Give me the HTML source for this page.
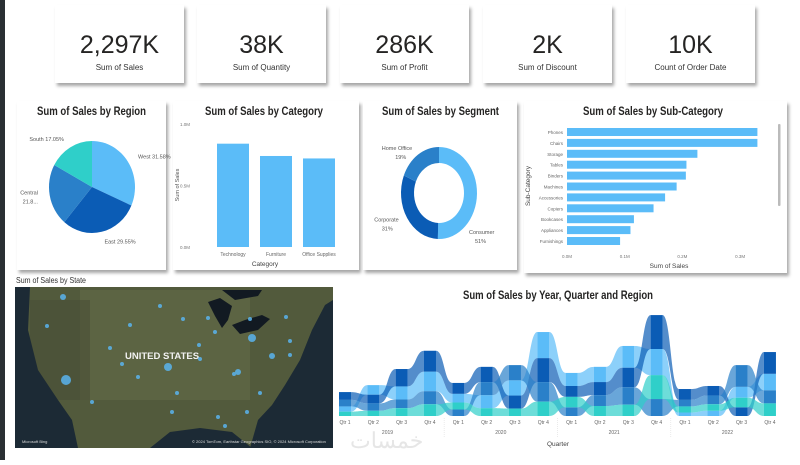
<!DOCTYPE html>
<html><head><meta charset="utf-8">
<style>
html,body{margin:0;padding:0;background:#fff;}
body{width:800px;height:460px;overflow:hidden;font-family:"Liberation Sans",sans-serif;}
svg text{font-family:"Liberation Sans",sans-serif;}
</style></head>
<body>
<svg id="root" width="800" height="460" viewBox="0 0 800 460" xmlns="http://www.w3.org/2000/svg">
<defs>
<filter id="sh" x="-10%" y="-10%" width="125%" height="130%">
<feDropShadow dx="2" dy="3" stdDeviation="1.6" flood-color="#000" flood-opacity="0.35"/>
</filter>
<clipPath id="mapclip"><rect x="15" y="287" width="318" height="161"/></clipPath>
</defs>
<rect x="0" y="0" width="800" height="460" fill="#ffffff"/>
<rect x="0" y="0" width="5" height="460" fill="#2a2f33"/>

<g>
<rect x="55" y="5" width="129" height="78" fill="#fff" filter="url(#sh)"/>
<text x="119.5" y="53" font-size="25" text-anchor="middle" fill="#252423">2,297K</text>
<text x="119.5" y="70" font-size="8" text-anchor="middle" fill="#333">Sum of Sales</text></g>
<g>
<rect x="197" y="5" width="129" height="78" fill="#fff" filter="url(#sh)"/>
<text x="261.5" y="53" font-size="25" text-anchor="middle" fill="#252423">38K</text>
<text x="261.5" y="70" font-size="8" text-anchor="middle" fill="#333">Sum of Quantity</text></g>
<g>
<rect x="340" y="5" width="129" height="78" fill="#fff" filter="url(#sh)"/>
<text x="404.5" y="53" font-size="25" text-anchor="middle" fill="#252423">286K</text>
<text x="404.5" y="70" font-size="8" text-anchor="middle" fill="#333">Sum of Profit</text></g>
<g>
<rect x="483" y="5" width="129" height="78" fill="#fff" filter="url(#sh)"/>
<text x="547.5" y="53" font-size="25" text-anchor="middle" fill="#252423">2K</text>
<text x="547.5" y="70" font-size="8" text-anchor="middle" fill="#333">Sum of Discount</text></g>
<g>
<rect x="626" y="5" width="129" height="78" fill="#fff" filter="url(#sh)"/>
<text x="690.5" y="53" font-size="25" text-anchor="middle" fill="#252423">10K</text>
<text x="690.5" y="70" font-size="8" text-anchor="middle" fill="#333">Count of Order Date</text></g>

<rect x="17" y="101" width="149" height="169" fill="#fff" filter="url(#sh)"/>
<rect x="173" y="101" width="186" height="169" fill="#fff" filter="url(#sh)"/>
<rect x="363" y="101" width="154" height="169" fill="#fff" filter="url(#sh)"/>
<rect x="524" y="101" width="263" height="172" fill="#fff" filter="url(#sh)"/>

<text x="37" y="115" font-size="12" font-weight="bold" fill="#252423" textLength="109" lengthAdjust="spacingAndGlyphs">Sum of Sales by Region</text>
<text x="205" y="115" font-size="12" font-weight="bold" fill="#252423" textLength="118" lengthAdjust="spacingAndGlyphs">Sum of Sales by Category</text>
<text x="382" y="115" font-size="12" font-weight="bold" fill="#252423" textLength="117" lengthAdjust="spacingAndGlyphs">Sum of Sales by Segment</text>
<text x="583" y="115" font-size="12" font-weight="bold" fill="#252423" textLength="140" lengthAdjust="spacingAndGlyphs">Sum of Sales by Sub-Category</text>

<g id="pie"></g>
<g id="cat"></g>
<g id="donut"></g>
<g id="sub"></g>

<text x="16" y="283" font-size="8" fill="#333" textLength="70" lengthAdjust="spacingAndGlyphs">Sum of Sales by State</text>
<g clip-path="url(#mapclip)">
<rect x="15" y="287" width="318" height="161" fill="#525a3c"/>
<rect x="80" y="290" width="170" height="110" fill="#646a48" opacity="0.6"/>
<rect x="30" y="300" width="60" height="100" fill="#4a4f37" opacity="0.6"/>
<path d="M15,287 L30,287 L28,330 L38,370 L58,400 L72,420 L78,448 L15,448Z" fill="#1c2a35"/>
<path d="M333,300 L333,448 L250,448 L258,420 L272,405 L285,385 L300,360 L312,330 L325,305Z" fill="#1c2a35"/>
<path d="M150,448 L170,432 L200,428 L232,432 L252,448Z" fill="#1c2a35"/>
<path d="M208,302 L220,298 L232,306 L228,320 L222,328 L215,316 Z" fill="#121a22"/>
<path d="M232,325 L245,320 L262,315 L270,319 L258,330 L240,334Z" fill="#121a22"/>
<path d="M222,290 L262,290 L258,296 L235,300Z" fill="#121a22"/>
<text x="125" y="359" font-size="9.5" font-weight="bold" fill="#f2f2f2">UNITED STATES</text>
<g fill="#5ab4ee" opacity="0.85" id="mapdots"></g>
<text x="22" y="443" font-size="4" fill="#ddd">Microsoft Bing</text>
<text x="192" y="443" font-size="4" fill="#ddd">© 2024 TomTom, Earthstar Geographics SIO, © 2024 Microsoft Corporation</text>
</g>

<g id="ribbon"></g>
<text x="463" y="299" font-size="12" font-weight="bold" fill="#252423" textLength="190" lengthAdjust="spacingAndGlyphs">Sum of Sales by Year, Quarter and Region</text>
<text x="350" y="448" font-size="22" fill="#e6e6e6" font-family="Liberation Sans, Noto Sans CJK SC, sans-serif">خمسات</text>
</svg>
<script>
var NS="http://www.w3.org/2000/svg";
function el(t,a,p){var e=document.createElementNS(NS,t);for(var k in a)e.setAttribute(k,a[k]);if(p)p.appendChild(e);return e;}
function txt(s,a,p){var e=el("text",a,p);e.textContent=s;return e;}

var regionNames=["West","East","Central","South"];
var regionShares=[31.58,29.55,21.8,17.05];
var regionLabels=["West 31.58%","East 29.55%","Central 21.8...","South 17.05%"];
var regionColors=["#5bbcf8","#0b5cb5","#2a80c9","#2fcfc9"];

var categories=["Technology","Furniture","Office Supplies"];
var categorySales=[0.84,0.74,0.72];
var categoryTicks=["0.0M","0.5M","1.0M"];
var categoryTickVals=[0,0.5,1.0];

var segments=["Consumer","Corporate","Home Office"];
var segmentShares=[51,31,19];
var segmentColors=["#5bbcf8","#0b5cb5","#2a80c9"];

var subCats=["Phones","Chairs","Storage","Tables","Binders","Machines","Accessories","Copiers","Bookcases","Appliances","Furnishings"];
var subSales=[0.33,0.33,0.226,0.207,0.206,0.19,0.17,0.15,0.116,0.11,0.092];
var subTicks=["0.0M","0.1M","0.2M","0.3M"];
var subTickVals=[0,0.1,0.2,0.3];

var quarters=["Qtr 1","Qtr 2","Qtr 3","Qtr 4","Qtr 1","Qtr 2","Qtr 3","Qtr 4","Qtr 1","Qtr 2","Qtr 3","Qtr 4","Qtr 1","Qtr 2","Qtr 3","Qtr 4"];
var years=["2019","2020","2021","2022"];
var westQ=[12,22,30,45,20,30,35,60,30,35,50,60,8,12,25,38];
var eastQ=[18,20,40,48,25,35,30,55,25,30,45,78,25,22,20,50];
var centralQ=[15,17,20,30,15,30,35,45,20,25,40,39,15,20,50,30];
var southQ=[10,12,18,27,16,18,17,33,24,23,26,55,14,15,22,29];

(function(){
 var g=document.getElementById("pie");var cx=92,cy=187,rx=43,ry=46;
 var tot=regionShares.reduce(function(a,b){return a+b;},0);var a0=0;
 for(var i=0;i<regionShares.length;i++){
  var a1=a0+regionShares[i]/tot*2*Math.PI;
  var x0=cx+rx*Math.sin(a0),y0=cy-ry*Math.cos(a0),x1=cx+rx*Math.sin(a1),y1=cy-ry*Math.cos(a1);
  var p=el("path",{d:"M"+cx+","+cy+"L"+x0+","+y0+"A"+rx+","+ry+" 0 "+((a1-a0)>Math.PI?1:0)+" 1 "+x1+","+y1+"Z",fill:regionColors[i]},g);
  
  
  var m=(a0+a1)/2,lx=cx+(rx+12)*Math.sin(m),ly=cy-(ry+10)*Math.cos(m);
  var anc=Math.sin(m)>0?"start":"end";
  if(i==2){var t1=txt("Central",{x:lx,y:ly-3,"font-size":5.5,fill:"#555","text-anchor":anc},g);
   var t2=txt("21.8...",{x:lx,y:ly+6,"font-size":5.5,fill:"#555","text-anchor":anc},g);}
  else{var t=txt(regionLabels[i],{x:lx,y:ly+2,"font-size":5.5,fill:"#555","text-anchor":anc},g);}
  a0=a1;
 }
})();

(function(){
 var g=document.getElementById("cat");var y0=247,y1=124;
 function ys(v){return y0-(v/1.0)*(y0-y1);}
 for(var i=0;i<categoryTicks.length;i++){var t=txt(categoryTicks[i],{x:190,y:ys(categoryTickVals[i])+2,"font-size":4.5,fill:"#777","text-anchor":"end"},g);}
 var t=txt("Sum of Sales",{x:0,y:0,"font-size":5.5,fill:"#555","text-anchor":"middle",transform:"translate(179,185) rotate(-90)"},g);
 for(var i=0;i<categories.length;i++){
  var x=217+i*43;
  var r=el("rect",{x:x,y:ys(categorySales[i]),width:32,height:y0-ys(categorySales[i]),fill:"#5bbcf8"},g);
  
  
  var l=txt(categories[i],{x:x+16,y:256,"font-size":5,fill:"#666","text-anchor":"middle"},g);
 }
 var a=txt("Category",{x:265,y:266,"font-size":6.5,fill:"#444","text-anchor":"middle"},g);
})();

(function(){
 var g=document.getElementById("donut");var cx=439,cy=193,rx=38,ry=46,irx=25,iry=30;
 var tot=segmentShares.reduce(function(a,b){return a+b;},0);var a0=0;
 function pt(a,r1,r2){return (cx+r1*Math.sin(a))+","+(cy-r2*Math.cos(a));}
 for(var i=0;i<segmentShares.length;i++){
  var a1=a0+segmentShares[i]/tot*2*Math.PI;var big=(a1-a0)>Math.PI?1:0;
  var d="M"+pt(a0,rx,ry)+"A"+rx+","+ry+" 0 "+big+" 1 "+pt(a1,rx,ry)+"L"+pt(a1,irx,iry)+"A"+irx+","+iry+" 0 "+big+" 0 "+pt(a0,irx,iry)+"Z";
  var p=el("path",{d:d,fill:segmentColors[i]},g);
  
  
  var m=(a0+a1)/2,lx=cx+(rx+10)*Math.sin(m),ly=cy-(ry+6)*Math.cos(m);
  var anc=Math.sin(m)>0?"start":"end";
  if(i==0){lx=cx+30;ly=cy+41;}
  var t1=txt(segments[i],{x:lx,y:ly,"font-size":5.5,fill:"#555","text-anchor":anc},g);
  var t2=txt(Math.round(segmentShares[i])+"%",{x:lx+(anc=="start"?6:-6),y:ly+9,"font-size":5.5,fill:"#555","text-anchor":anc},g);
  a0=a1;
 }
})();

(function(){
 var g=document.getElementById("sub");var x0=567,px=577;
 function xs(v){return x0+v*px;}
 for(var i=0;i<subCats.length;i++){
  var y=132+i*10.9;
  var r=el("rect",{x:x0,y:y-4,width:xs(subSales[i])-x0,height:8,fill:"#5bbcf8"},g);
  
  
  var l=txt(subCats[i],{x:563,y:y+2,"font-size":4.5,fill:"#666","text-anchor":"end"},g);
 }
 for(var j=0;j<subTicks.length;j++){var t=txt(subTicks[j],{x:xs(subTickVals[j]),y:258,"font-size":4.5,fill:"#777","text-anchor":"middle"},g);}
 var a=txt("Sum of Sales",{x:669,y:268,"font-size":6.5,fill:"#444","text-anchor":"middle"},g);
 var b=txt("Sub-Category",{x:0,y:0,"font-size":6.5,fill:"#444","text-anchor":"middle",transform:"translate(530,186) rotate(-90)"},g);
 var s=el("rect",{x:778,y:124,width:2.5,height:82,fill:"#bbb",rx:1},g);
})();

(function(){
 var g=document.getElementById("mapdots");
 var dots=[[63,297,3],[66,380,5],[47,326,2],[168,367,4],[252,338,4],[272,356,3],[238,372,3],[215,332,2],[234,374,2],[225,426,2],[172,412,2],[218,417,2],[247,412,2],[250,319,2],[200,359,2],[130,325,2],[138,377,2],[177,393,2],[92,402,2],[122,364,2],[290,355,2],[290,341,2],[260,393,2],[286,317,2],[235,450,2],[208,318,2],[199,345,2],[160,306,2],[110,348,2],[183,319,2]];
 for(var i=0;i<dots.length;i++){var c=el("circle",{cx:dots[i][0],cy:dots[i][1],r:dots[i][2]},g);}
})();

(function(){
 var g=document.getElementById("ribbon");
 var series=[westQ,eastQ,centralQ,southQ];
 var base=416,k=0.435,x0=345,step=28.33,w=12;
 function xq(i){return x0+i*step;}
 function yv(v){return base-v*k;}
 var n=quarters.length;var pos=[];
 for(var q=0;q<n;q++){
  var idx=[0,1,2,3].sort(function(a,b){return series[a][q]-series[b][q];});
  var cum=0;pos[q]=[];
  for(var j=0;j<idx.length;j++){var r=idx[j];pos[q][r]=[yv(cum),yv(cum+series[r][q])];cum+=series[r][q];}
 }
 for(var r=0;r<4;r++){
  for(var q=0;q<n-1;q++){
   var xa=xq(q)+w/2,xb=xq(q+1)-w/2,xm=(xa+xb)/2;
   var A=pos[q][r],B=pos[q+1][r];
   var d="M"+xa+","+A[1]+"C"+xm+","+A[1]+" "+xm+","+B[1]+" "+xb+","+B[1]+"L"+xb+","+B[0]+"C"+xm+","+B[0]+" "+xm+","+A[0]+" "+xa+","+A[0]+"Z";
   var p=el("path",{d:d,fill:regionColors[r],opacity:0.7},g);
   
   
  }
 }
 for(var q=0;q<n;q++){for(var r=0;r<4;r++){
  var P=pos[q][r];
  var c=el("rect",{x:xq(q)-w/2,y:P[1],width:w,height:P[0]-P[1],fill:regionColors[r]},g);
  
  
 }
  var t=txt(quarters[q],{x:xq(q),y:424,"font-size":5,fill:"#666","text-anchor":"middle"},g);
 }
 for(var y=0;y<years.length;y++){
  var cx=(xq(y*4)+xq(y*4+3))/2;
  var t=txt(years[y],{x:cx,y:434,"font-size":5,fill:"#666","text-anchor":"middle"},g);
  if(y>0){var l=el("line",{x1:xq(y*4)-step/2,x2:xq(y*4)-step/2,y1:418,y2:437,stroke:"#ddd","stroke-dasharray":"1,1","stroke-width":0.6},g);}
 }
 var a=txt("Quarter",{x:558,y:446,"font-size":6.5,fill:"#444","text-anchor":"middle"},g);
})();
</script>
</body></html>
